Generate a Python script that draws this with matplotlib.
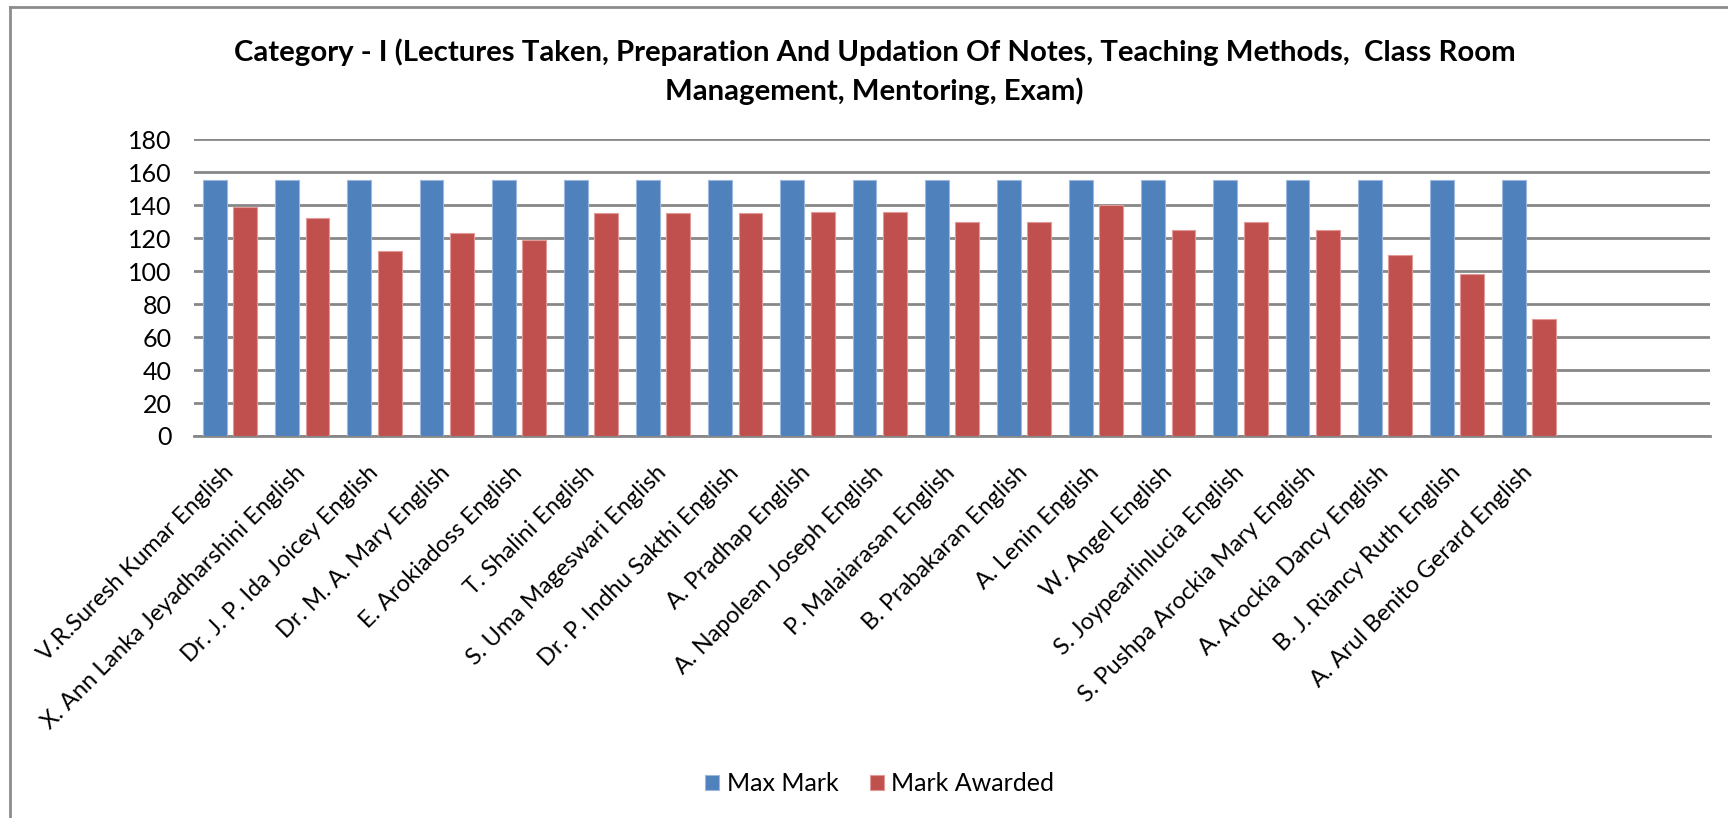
import numpy as np
import matplotlib
matplotlib.use('Agg')
import matplotlib.pyplot as plt
from matplotlib.lines import Line2D

plt.rcParams['font.family'] = ['Lato', 'DejaVu Sans']

# chart data
names = ['V.R.Suresh Kumar English', 'X. Ann Lanka Jeyadharshini English',
         'Dr. J. P. Ida Joicey English', 'Dr. M. A. Mary English',
         'E. Arokiadoss English', 'T. Shalini English',
         'S. Uma Mageswari English', 'Dr. P. Indhu Sakthi English',
         'A. Pradhap English', 'A. Napolean Joseph English',
         'P. Malaiarasan English', 'B. Prabakaran English',
         'A. Lenin English', 'W. Angel English',
         'S. Joypearlinlucia English', 'S. Pushpa Arockia Mary English',
         'A. Arockia Dancy English', 'B. J. Riancy Ruth English',
         'A. Arul Benito Gerard English']
max_mark = [155, 155, 155, 155, 155, 155, 155, 155, 155, 155,
            155, 155, 155, 155, 155, 155, 155, 155, 155]
mark_awarded = [139, 132, 112, 123, 119, 135, 135, 135, 136, 136,
                130, 130, 140, 125, 130, 125, 110, 98, 71]
yticks = [0, 20, 40, 60, 80, 100, 120, 140, 160, 180]

title = ('Category - I (Lectures Taken, Preparation And Updation Of Notes, '
         'Teaching Methods,  Class Room\nManagement, Mentoring, Exam)')

blue = '#4F81BD'
red = '#C0504D'
grid_col = '#878787'

fig = plt.figure(figsize=(17.28, 8.18), dpi=100)
ax = fig.add_axes([0.1123, 0.467, 0.877, 0.363])

x = np.arange(len(names))
w = 0.33
off = 0.21
ax.bar(x - off, max_mark, w, color=blue, edgecolor='#9DB7DD', linewidth=0.8,
       label='Max Mark', zorder=3)
ax.bar(x + off, mark_awarded, w, color=red, edgecolor='#E29A98', linewidth=0.8,
       label='Mark Awarded', zorder=3)

# two empty category slots at the end, like the original sheet
ax.set_xlim(-0.5, len(names) + 1.5)
ax.set_ylim(0, 180)
ax.set_yticks(yticks)
ax.set_yticklabels([str(v) for v in yticks], fontsize=18)
ax.yaxis.grid(True, color=grid_col, linewidth=2, zorder=0)
ax.set_axisbelow(True)
ax.tick_params(axis='y', length=0, pad=16)
ax.tick_params(axis='x', length=0, pad=24)

ax.set_xticks(x)
ax.set_xticklabels(names, fontsize=17, rotation=45, ha='right',
                   va='center', rotation_mode='anchor')

for s in ['left', 'right', 'top']:
    ax.spines[s].set_visible(False)
ax.spines['bottom'].set_color(grid_col)
ax.spines['bottom'].set_linewidth(2)

fig.text(0.506, 0.9125, title, ha='center', va='center', fontsize=21.2,
         fontweight='bold', linespacing=1.5)

leg = fig.legend(loc='center', bbox_to_anchor=(0.509, 0.042), ncol=2,
                 frameon=False, fontsize=18, handlelength=0.56,
                 handleheight=0.56, columnspacing=1.25, handletextpad=0.3)

# outer chart frame (only left and top edges fall inside the image)
fig.add_artist(Line2D([10 / 1728, 10 / 1728], [0, 1 - 7 / 818],
                      transform=fig.transFigure, color='#8C8C8C', lw=2))
fig.add_artist(Line2D([10 / 1728, 1], [1 - 7 / 818, 1 - 7 / 818],
                      transform=fig.transFigure, color='#8C8C8C', lw=2))

fig.savefig('out.png', dpi=100)
